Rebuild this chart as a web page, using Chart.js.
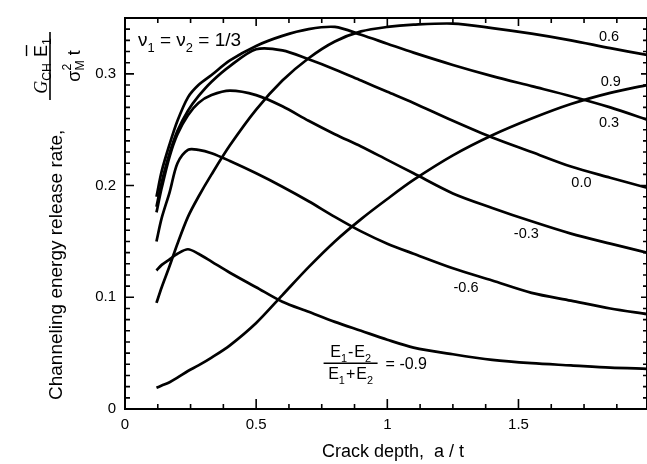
<!DOCTYPE html>
<html>
<head>
<meta charset="utf-8">
<script src="https://cdn.jsdelivr.net/npm/chart.js@4/dist/chart.umd.min.js"></script>
<style>
  html, body { margin: 0; padding: 0; background: #fff; }
  #chart { display: block; }
</style>
</head>
<body>
<canvas id="chart" width="647" height="464"></canvas>
<script>
// crack depth a/t (shared x grid for all curves)
const crackDepth = [0.12, 0.14, 0.17, 0.2, 0.24, 0.28, 0.33, 0.4, 0.5, 0.6, 0.7, 0.8, 0.9, 1.0, 1.1, 1.25, 1.4, 1.55, 1.7, 1.85, 1.99]

// normalised channeling energy release rate, one array per alpha = (E1-E2)/(E1+E2)
const gAlphaP09 = [0.019, 0.021, 0.024, 0.028, 0.034, 0.039, 0.046, 0.057, 0.077, 0.102, 0.127, 0.150, 0.170, 0.188, 0.205, 0.227, 0.245, 0.260, 0.273, 0.283, 0.290]
const gAlphaP06 = [0.095, 0.109, 0.128, 0.148, 0.172, 0.190, 0.210, 0.236, 0.268, 0.294, 0.314, 0.329, 0.338, 0.342, 0.344, 0.345, 0.341, 0.336, 0.330, 0.323, 0.317]
const gAlphaP03 = [0.190, 0.213, 0.237, 0.258, 0.279, 0.290, 0.299, 0.312, 0.325, 0.334, 0.340, 0.342, 0.335, 0.327, 0.319, 0.308, 0.298, 0.289, 0.280, 0.270, 0.259]
const gAlpha00 = [0.181, 0.203, 0.229, 0.249, 0.267, 0.280, 0.293, 0.307, 0.322, 0.321, 0.313, 0.304, 0.294, 0.284, 0.274, 0.258, 0.243, 0.230, 0.217, 0.207, 0.198]
const gAlphaM03 = [0.176, 0.198, 0.226, 0.246, 0.263, 0.274, 0.281, 0.285, 0.281, 0.271, 0.258, 0.246, 0.235, 0.223, 0.211, 0.193, 0.180, 0.168, 0.157, 0.148, 0.140]
const gAlphaM06 = [0.150, 0.171, 0.194, 0.220, 0.232, 0.232, 0.229, 0.222, 0.211, 0.199, 0.186, 0.172, 0.159, 0.148, 0.139, 0.126, 0.115, 0.104, 0.097, 0.090, 0.085]
const gAlphaM09 = [0.124, 0.129, 0.134, 0.139, 0.143, 0.139, 0.132, 0.122, 0.109, 0.096, 0.087, 0.078, 0.070, 0.062, 0.055, 0.049, 0.044, 0.041, 0.039, 0.037, 0.036]

const alphaNames = ['0.9', '0.6', '0.3', '0.0', '-0.3', '-0.6', '-0.9']
const allSeries = [gAlphaP09, gAlphaP06, gAlphaP03, gAlpha00, gAlphaM03, gAlphaM06, gAlphaM09]

const xTickLabels = [0, 0.5, 1, 1.5]
const yTickLabels = [0, 0.1, 0.2, 0.3]
const xMinorStep = 0.125
const yMinorStep = 0.01

const FONT = '"Liberation Sans", Arial, Helvetica, sans-serif'

// where each curve label sits, in data units
const curveLabelPos = {
    '0.6': [1.845, 0.333],
    '0.9': [1.852, 0.293],
    '0.3': [1.845, 0.256],
    '0.0': [1.74, 0.202],
    '-0.3': [1.53, 0.157],
    '-0.6': [1.30, 0.108]
}

const toPoints = (ys) => crackDepth.map((x, i) => ({ x: x, y: ys[i] }))

const pickLabel = (list, v) => {
    const m = list.find(t => Math.abs(t - v) < 1e-6)
    return m === undefined ? '' : String(m)
}

// text with sub/superscripts, runs drawn left to right
const measureRuns = (ctx, runs, size) => {
    let w = 0
    runs.forEach(r => {
        const s = (r.sub || r.sup) ? size * 0.68 : size
        ctx.font = `${r.italic ? 'italic ' : ''}${s}px ${r.family || FONT}`
        if (!r.stay) w += ctx.measureText(r.t).width + (r.gap || 0)
    })
    return w
}

const drawRuns = (ctx, runs, x, y, size) => {
    let cx = x
    runs.forEach(r => {
        const s = (r.sub || r.sup) ? size * 0.68 : size
        ctx.font = `${r.italic ? 'italic ' : ''}${s}px ${r.family || FONT}`
        const dy = r.sub ? size * 0.3 : r.sup ? -size * 0.42 : 0
        ctx.fillText(r.t, cx, y + dy)
        const w = ctx.measureText(r.t).width
        if (r.bar) {
            ctx.save()
            ctx.lineWidth = 1.4
            ctx.beginPath()
            ctx.moveTo(cx + 1, y - size * 0.86)
            ctx.lineTo(cx + w, y - size * 0.86)
            ctx.stroke()
            ctx.restore()
        }
        if (!r.stay) cx += w + (r.gap || 0)
    })
}

const decorPlugin = {
    id: 'decor',
    afterDraw(chart) {
        const { ctx, chartArea: area } = chart
        const x = chart.scales.x
        const y = chart.scales.y
        ctx.save()
        ctx.strokeStyle = '#000'
        ctx.fillStyle = '#000'

        // frame
        ctx.lineWidth = 2
        ctx.strokeRect(area.left, area.top, area.right - area.left, area.bottom - area.top)

        // inward ticks
        ctx.lineWidth = 1.6
        ctx.beginPath()
        for (let k = 0; k * xMinorStep <= x.max + 1e-9; k++) {
            const px = x.getPixelForValue(k * xMinorStep)
            const major = k % 4 === 0
            ctx.moveTo(px, area.bottom)
            ctx.lineTo(px, area.bottom - (major ? 10 : 5))
            ctx.moveTo(px, area.top)
            ctx.lineTo(px, area.top + (major ? 8 : 5))
        }
        for (let k = 0; k * yMinorStep <= y.max + 1e-9; k++) {
            const py = y.getPixelForValue(k * yMinorStep)
            const major = k % 10 === 0
            ctx.moveTo(area.left, py)
            ctx.lineTo(area.left + (major ? 9 : 5), py)
            ctx.moveTo(area.right, py)
            ctx.lineTo(area.right - (major ? 6 : 4), py)
        }
        ctx.stroke()

        // curve labels
        ctx.textAlign = 'center'
        ctx.textBaseline = 'middle'
        ctx.font = `14.5px ${FONT}`
        Object.keys(curveLabelPos).forEach(name => {
            const p = curveLabelPos[name]
            ctx.fillText(name, x.getPixelForValue(p[0]), y.getPixelForValue(p[1]))
        })

        ctx.textAlign = 'left'
        ctx.textBaseline = 'alphabetic'

        // (E1-E2)/(E1+E2) = -0.9
        const fx = x.getPixelForValue(0.86)
        const fy = y.getPixelForValue(0.041)
        const num = [{ t: 'E' }, { t: '1', sub: true, gap: 1 }, { t: '-', gap: 1 }, { t: 'E' }, { t: '2', sub: true }]
        const den = [{ t: 'E' }, { t: '1', sub: true, gap: 1 }, { t: '+', gap: 1 }, { t: 'E' }, { t: '2', sub: true }]
        const nw = measureRuns(ctx, num, 16)
        const dw = measureRuns(ctx, den, 16)
        drawRuns(ctx, num, fx - nw / 2, fy - 6, 16)
        drawRuns(ctx, den, fx - dw / 2, fy + 16, 16)
        ctx.lineWidth = 1.6
        ctx.beginPath()
        ctx.moveTo(fx - 27, fy)
        ctx.lineTo(fx + 27, fy)
        ctx.stroke()
        ctx.font = `16px ${FONT}`
        ctx.textBaseline = 'middle'
        ctx.fillText('= -0.9', fx + 35, fy + 1)
        ctx.textBaseline = 'alphabetic'

        // nu1 = nu2 = 1/3
        drawRuns(ctx, [{ t: 'ν' }, { t: '1', sub: true }, { t: ' = ν' }, { t: '2', sub: true }, { t: ' = 1/3' }], 138, 46, 19)

        // x axis title
        ctx.textAlign = 'center'
        ctx.textBaseline = 'middle'
        ctx.font = `18px ${FONT}`
        ctx.fillText('Crack depth,  a / t', 393, 452)

        // y axis title (rotated)
        ctx.save()
        ctx.translate(62, 400)
        ctx.rotate(-Math.PI / 2)
        ctx.textAlign = 'left'
        ctx.textBaseline = 'alphabetic'
        ctx.font = `19px ${FONT}`
        ctx.fillText('Channeling energy release rate,', 0, 0)
        ctx.restore()

        // y axis fraction  G_CH E1 / sigma_M^2 t
        ctx.save()
        ctx.translate(50, 66)
        ctx.rotate(-Math.PI / 2)
        ctx.textAlign = 'left'
        ctx.lineWidth = 1.6
        ctx.beginPath()
        ctx.moveTo(-34, 0)
        ctx.lineTo(34, 0)
        ctx.stroke()
        const top = [{ t: 'G', italic: true, family: '"Liberation Serif", serif' }, { t: 'CH', sub: true, gap: 6 }, { t: 'E', bar: true }, { t: '1', sub: true }]
        const bot = [{ t: 'σ' }, { t: '2', sup: true, stay: true }, { t: 'M', sub: true, gap: 5 }, { t: 't' }]
        const tw = measureRuns(ctx, top, 18)
        const bw = measureRuns(ctx, bot, 18)
        drawRuns(ctx, top, -tw / 2, -8, 18)
        drawRuns(ctx, bot, -bw / 2, 25, 18)
        ctx.restore()

        ctx.restore()
    }
}

new Chart(document.querySelector('#chart'), {
    type: 'line',
    data: {
        datasets: allSeries.map((ys, i) => ({
            label: alphaNames[i],
            data: toPoints(ys),
            borderColor: '#000',
            borderWidth: 2.7,
            pointRadius: 0,
            fill: false,
            tension: 0.3
        }))
    },
    options: {
        responsive: false,
        animation: false,
        layout: { padding: { top: 16, right: 0, bottom: 0, left: 0 } },
        plugins: { legend: { display: false }, tooltip: { enabled: false } },
        scales: {
            x: {
                type: 'linear',
                min: 0,
                max: 1.99,
                grid: { display: false, drawTicks: false },
                border: { display: false },
                afterFit: (scale) => { scale.height = 55 },
                ticks: {
                    stepSize: xMinorStep,
                    autoSkip: false,
                    includeBounds: false,
                    maxRotation: 0,
                    padding: 7,
                    color: '#000',
                    font: { family: FONT, size: 15 },
                    callback: (v) => pickLabel(xTickLabels, v)
                }
            },
            y: {
                type: 'linear',
                min: 0,
                max: 0.35,
                grid: { display: false, drawTicks: false },
                border: { display: false },
                afterFit: (scale) => { scale.width = 125 },
                ticks: {
                    stepSize: yMinorStep,
                    autoSkip: false,
                    includeBounds: false,
                    padding: 9,
                    color: '#000',
                    font: { family: FONT, size: 15 },
                    callback: (v) => pickLabel(yTickLabels, v)
                }
            }
        }
    },
    plugins: [decorPlugin]
})
</script>
</body>
</html>
